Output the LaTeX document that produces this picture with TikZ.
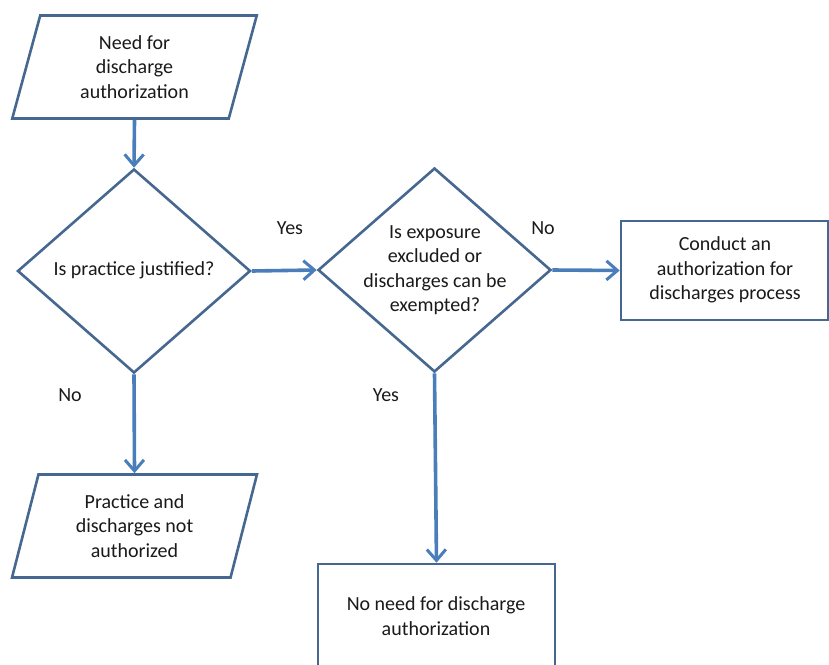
\documentclass[tikz,border=0pt]{standalone}
\usepackage{fontspec}
\setmainfont{Carlito}
\usetikzlibrary{shapes.geometric,arrows.meta}
\definecolor{edgeblue}{HTML}{46678F}
\definecolor{arrowblue}{HTML}{4A7EBB}
\definecolor{txt}{HTML}{1A1A1A}
\tikzset{
  shapeline/.style={draw=edgeblue, line width=2.6pt, fill=white},
  txtnode/.style={text=txt, font=\fontsize{20}{24.5}\selectfont, align=center, inner sep=0pt},
  para/.style={shapeline, txtnode, trapezium, trapezium left angle=76, trapezium right angle=104,
    trapezium stretches=true, minimum width=245pt, minimum height=103pt, inner sep=2pt},
  dia/.style={shapeline, diamond, minimum width=233pt, minimum height=204pt, inner sep=2pt},
  boxnode/.style={shapeline, rectangle, inner sep=2pt},
  flow/.style={draw=arrowblue, line width=3.6pt, -{Straight Barb[length=11pt,width=19pt,line width=3pt]}},
}
\begin{document}
\begin{tikzpicture}[x=1pt,y=-1pt]
\useasboundingbox (0,0) rectangle (829,664);
\clip (0,0) rectangle (829,664);
% shapes
\node[para] (need) at (134.5,67) {Need for\\discharge\\authorization};
\node[dia] (just) at (134,271) {};
\node[dia] (expo) at (434.5,270) {};
\node[boxnode, minimum width=207pt, minimum height=99pt] (conduct) at (724.5,270.5) {};
\node[para] (notauth) at (134.5,526) {Practice and\\discharges not\\authorized};
\node[boxnode, minimum width=237pt, minimum height=140pt] (noneed) at (436.5,634) {};
% texts
\node[txtnode] (t2) at (134,270) {Is practice justified?};
\node[txtnode] (t3) at (435,270) {Is exposure\\excluded or\\discharges can be\\exempted?};
\node[txtnode] (t4) at (725,270) {Conduct an\\authorization for\\discharges process};
\node[txtnode] (t6) at (436,616) {No need for discharge\\authorization};
% labels
\node[txtnode] (yes1) at (290,228) {Yes};
\node[txtnode] (no1) at (543,228) {No};
\node[txtnode] (no2) at (70,395) {No};
\node[txtnode] (yes2) at (386,395) {Yes};
% connectors
\draw[flow] (need.south) -- (just.north);
\draw[flow] (just.east) -- (expo.west);
\draw[flow] (expo.east) -- (conduct.west);
\draw[flow] (just.south) -- (notauth.north);
\draw[flow] (expo.south) -- (noneed.north);
\end{tikzpicture}
\end{document}
